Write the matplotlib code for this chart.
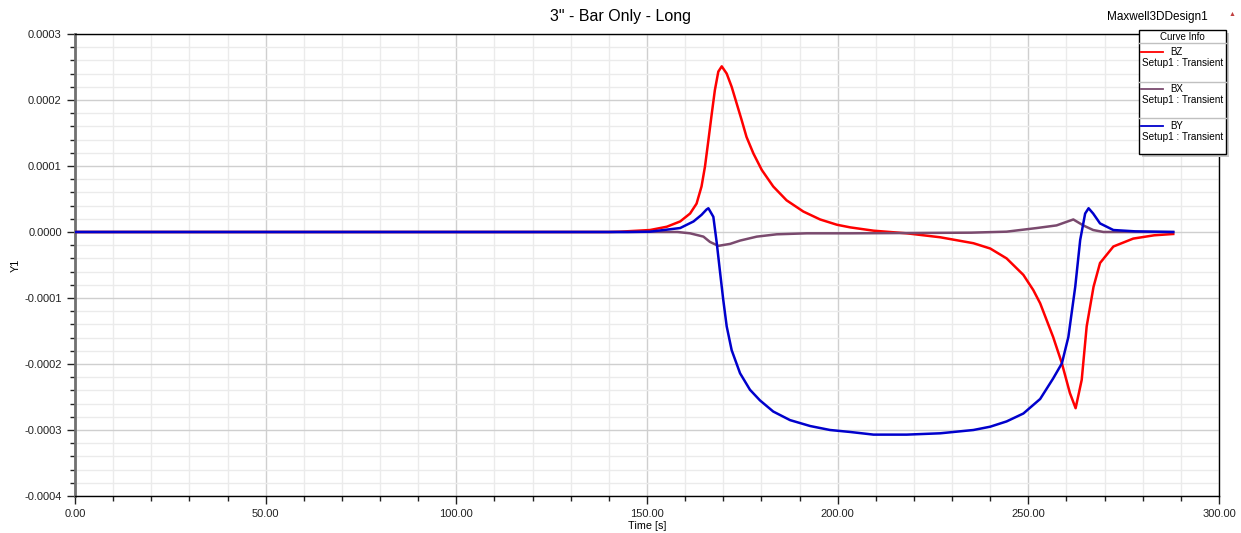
import matplotlib
matplotlib.use("Agg")
import matplotlib.pyplot as plt
import numpy as np
from matplotlib.patches import Rectangle
from matplotlib.lines import Line2D
from matplotlib.ticker import MultipleLocator, FormatStrFormatter

plt.rcParams['font.family'] = ['Liberation Sans', 'DejaVu Sans']

# ---- data (values in units of 1e-4) ----
bz_t = [0, 140, 142.9, 150.8, 155.2, 158.7, 161.3, 163.0, 164.3, 165.2, 166.1, 167.0, 167.8, 168.7, 169.6,
        170.9, 172.2, 173.5, 174.8, 176.1, 177.9, 180.1, 183.1, 186.6, 191.0, 195.4, 199.8, 203.3,
        209.4, 218.1, 226.9, 235.6, 240.0, 244.3, 248.7, 251.3, 253.1, 256.5, 258.8,
        260.9, 262.4, 264.0, 265.3, 267.1, 268.8, 272.3, 277.5, 283, 288]
bz_v = [0, 0, 0.005, 0.03, 0.08, 0.16, 0.28, 0.43, 0.69, 0.99, 1.39, 1.80, 2.15, 2.43, 2.51,
        2.40, 2.20, 1.95, 1.70, 1.44, 1.19, 0.94, 0.69, 0.48, 0.31, 0.19, 0.11, 0.07,
        0.02, -0.02, -0.08, -0.17, -0.25, -0.40, -0.65, -0.88, -1.08, -1.59, -1.99,
        -2.44, -2.67, -2.24, -1.43, -0.83, -0.47, -0.22, -0.1, -0.05, -0.03]

bx_t = [0, 158, 161.3, 164.8, 166.5, 168.7, 171.8, 174.4, 178.8, 184.0, 191.9, 203.3, 220, 235,
        244.3, 252.2, 257.4, 261.8, 264.4, 267, 269.7, 288]
bx_v = [0, 0, -0.02, -0.07, -0.15, -0.21, -0.18, -0.13, -0.07, -0.035, -0.02, -0.02, -0.015, -0.01,
        0.005, 0.06, 0.1, 0.19, 0.1, 0.03, 0, 0]

by_t = [0, 145, 150.8, 158.7, 162.2, 164.3, 165.6, 166.1, 167.4, 168.3, 169.2, 170.0, 170.9, 172.2,
        174.4, 177.0, 179.6, 183.1, 187.5, 192.8, 198.0, 203.3, 209.4, 218.1, 226.9, 235.6, 240.0,
        244.3, 248.7, 253.1, 256.5, 258.8, 260.5, 262.3, 263.6, 264.9, 265.8, 267, 268.8, 272.3, 278, 288]
by_v = [0, 0, 0.005, 0.06, 0.16, 0.26, 0.34, 0.36, 0.23, -0.17, -0.63, -1.03, -1.43, -1.79,
        -2.14, -2.39, -2.55, -2.72, -2.85, -2.94, -3.0, -3.03, -3.07, -3.07, -3.05, -3.0, -2.95,
        -2.87, -2.75, -2.53, -2.22, -1.99, -1.59, -0.83, -0.12, 0.28, 0.36, 0.28, 0.13, 0.03, 0.01, 0]

names = ["BZ", "BX", "BY"]
colors = ["#ff0000", "#7a4a6e", "#0000cc"]
subtitle = "Setup1 : Transient"
scale = 1e-4

W, H = 1241, 533
fig = plt.figure(figsize=(W / 100, H / 100), dpi=100)
ax = fig.add_axes([75 / W, 1 - 496 / H, (1219 - 75) / W, (496 - 34) / H])

series = [(bz_t, bz_v), (bx_t, bx_v), (by_t, by_v)]
for (t, v), c in zip(series, colors):
    ax.plot(t, np.array(v) * scale, color=c, lw=1.8, zorder=3, solid_joinstyle='round')

ax.set_xlim(0, 300)
ax.set_ylim(-0.0004, 0.0003)
ax.xaxis.set_major_locator(MultipleLocator(50))
ax.xaxis.set_minor_locator(MultipleLocator(10))
ax.yaxis.set_major_locator(MultipleLocator(0.0001))
ax.yaxis.set_minor_locator(MultipleLocator(0.00002))
ax.xaxis.set_major_formatter(FormatStrFormatter('%.2f'))
ax.yaxis.set_major_formatter(FormatStrFormatter('%.4f'))
ax.grid(which='major', color='#cfcfcf', lw=1.0, zorder=0)
ax.grid(which='minor', color='#ebebeb', lw=1.0, zorder=0)
ax.set_axisbelow(True)
ax.tick_params(which='major', direction='out', length=6, width=1, labelsize=8, colors='#222222')
ax.tick_params(which='minor', direction='out', length=3.5, width=1, color='#222222')
for s in ['top', 'right', 'bottom']:
    ax.spines[s].set_color('black')
    ax.spines[s].set_linewidth(1)
ax.spines['left'].set_color('#707070')
ax.spines['left'].set_linewidth(2)

ax.set_xlabel("Time [s]", fontsize=7.8, labelpad=1)
ax.set_ylabel("Y1", fontsize=7.8)
ax.yaxis.set_label_coords(-0.047, 0.5)

fig.text(0.5, 1 - 17 / H, '3" - Bar Only - Long', ha='center', va='center', fontsize=11.5)
fig.text(1208 / W, 1 - 17 / H, 'Maxwell3DDesign1', ha='right', va='center', fontsize=8.5)
fig.text(1232 / W, 1 - 14 / H, '\u25B2', ha='center', va='center', fontsize=5, color='#c04040')

# legend box (figure pixel coords, y from top)
def fx(x): return x / W
def fy(y): return 1 - y / H

x0, x1, y0, y1 = 1139, 1226, 30, 154
fig.patches.append(Rectangle((fx(x0 + 3), fy(y1 + 3)), fx(x1 - x0), (y1 - y0) / H,
                             transform=fig.transFigure, facecolor='#c8c8c8', edgecolor='none', zorder=5))
fig.patches.append(Rectangle((fx(x0), fy(y1)), fx(x1 - x0), (y1 - y0) / H,
                             transform=fig.transFigure, facecolor='white', edgecolor='black', lw=1, zorder=6))
fig.text(fx((x0 + x1) / 2), fy(37.5), "Curve Info", ha='center', va='center', fontsize=7, zorder=7)
for ysep in [43, 82, 118.5]:
    fig.add_artist(Line2D([fx(x0), fx(x1)], [fy(ysep), fy(ysep)], color='#c0c0c0', lw=1, zorder=7))
for i, (n, c) in enumerate(zip(names, colors)):
    yl = 52.3 + i * 37
    fig.add_artist(Line2D([fx(1141), fx(1163)], [fy(yl), fy(yl)], color=c, lw=1.3, zorder=7))
    fig.text(fx(1170), fy(yl), n, ha='left', va='center', fontsize=7, zorder=7)
    fig.text(fx(1142), fy(yl + 11), subtitle, ha='left', va='center', fontsize=7.2, zorder=7)

fig.savefig("out.png", dpi=100)
